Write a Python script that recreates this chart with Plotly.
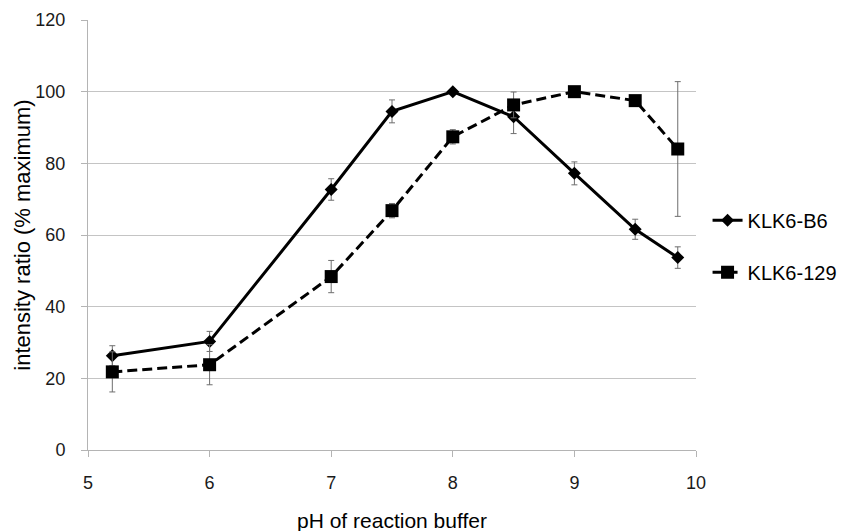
import plotly.graph_objects as go

ph = [5.2, 6, 7, 7.5, 8, 8.5, 9, 9.5, 9.85]
b6 = [26.3, 30.3, 72.7, 94.5, 100, 93.0, 77.2, 61.6, 53.7]
b6_err = [2.8, 2.8, 3.0, 3.2, 0.5, 4.7, 3.2, 2.8, 3.0]
s129 = [21.8, 23.8, 48.4, 66.8, 87.4, 96.3, 100, 97.5, 84.0]
s129_err = [5.6, 5.6, 4.5, 2.0, 2.0, 3.6, 0.5, 0.5, 18.8]

font = "Liberation Sans, Arial, sans-serif"
axis_grey = "#b4b4b4"

fig = go.Figure()
fig.add_trace(go.Scatter(
    x=ph, y=b6, name="KLK6-B6", mode="lines+markers", legendgroup="a",
    line=dict(color="black", width=3),
    marker=dict(symbol="diamond", size=10, color="black"),
    error_y=dict(type="data", array=b6_err, color="#6e6e6e", thickness=1, width=3),
))
fig.add_trace(go.Scatter(
    x=ph, y=s129, name="KLK6-129", mode="lines+markers", legendgroup="b",
    line=dict(color="black", width=3, dash="10px,5px"),
    marker=dict(symbol="square", size=13, color="black"),
    error_y=dict(type="data", array=s129_err, color="#6e6e6e", thickness=1, width=3),
))

fig.update_layout(
    width=845, height=531,
    margin=dict(l=88, r=149, t=20, b=81, autoexpand=False),
    paper_bgcolor="white", plot_bgcolor="white",
    font=dict(family=font, size=18, color="black"),
    legend=dict(x=1.019, y=0.474, xanchor="left", yanchor="middle",
                itemwidth=30, tracegroupgap=23, traceorder="grouped",
                font=dict(size=20, color="black")),
    xaxis=dict(
        range=[5, 10], tickvals=[5, 6, 7, 8, 9, 10],
        showgrid=False, showline=True, linecolor=axis_grey, linewidth=1,
        ticks="outside", ticklen=6, tickcolor=axis_grey, ticklabelstandoff=10,
        tickfont=dict(size=18, color="#1a1a1a"),
        zeroline=False, automargin=False,
    ),
    yaxis=dict(
        range=[0, 120], tickvals=[0, 20, 40, 60, 80, 100, 120],
        showgrid=True, gridcolor="#c4c4c4", gridwidth=1,
        showline=True, linecolor=axis_grey, linewidth=1,
        ticks="outside", ticklen=6, tickcolor=axis_grey, ticklabelstandoff=12,
        tickfont=dict(size=18, color="#1a1a1a"),
        zeroline=False, automargin=False,
    ),
    annotations=[
        dict(text="pH of reaction buffer", xref="paper", yref="paper",
             x=0.5, y=-0.163, xanchor="center", yanchor="middle",
             showarrow=False, font=dict(size=21, color="black")),
        dict(text="intensity ratio (% maximum)", xref="paper", yref="paper",
             x=-0.109, y=0.5, xanchor="center", yanchor="middle", textangle=-90,
             showarrow=False, font=dict(size=22, color="black")),
    ],
)

fig.write_html(
    "out.html",
    config={"displayModeBar": False},
    post_script="document.body.style.margin='0px';document.body.style.overflow='hidden';",
)
